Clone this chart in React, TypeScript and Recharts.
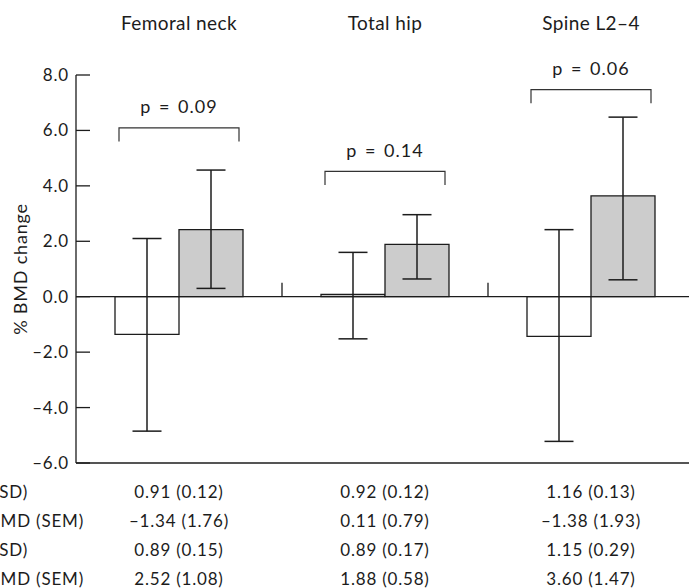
import { Bar, BarChart, ErrorBar, ReferenceLine, XAxis, YAxis } from "recharts";

const SITES = ["Femoral neck", "Total hip", "Spine L2–4"];

// % BMD change as drawn, with the ends of the 95% CI whiskers
const CONTROL_CHANGE = [-1.36, 0.08, -1.43];
const CONTROL_LOW = [-4.85, -1.52, -5.22];
const CONTROL_HIGH = [2.1, 1.6, 2.42];
const TREATED_CHANGE = [2.42, 1.89, 3.64];
const TREATED_LOW = [0.3, 0.64, 0.61];
const TREATED_HIGH = [4.57, 2.96, 6.48];

const P_LABELS = ["p = 0.09", "p = 0.14", "p = 0.06"];
const P_LEVEL = [6.09, 4.52, 7.47];

const Y_TICKS = [-6, -4, -2, 0, 2, 4, 6, 8];

const ROW_LABELS = [
  "Control: baseline BMD (SD)",
  "Control: % change in BMD (SEM)",
  "Treated: baseline BMD (SD)",
  "Treated: % change in BMD (SEM)",
];
const CONTROL_BASELINE = ["0.91 (0.12)", "0.92 (0.12)", "1.16 (0.13)"];
const CONTROL_PCT = ["–1.34 (1.76)", "0.11 (0.79)", "–1.38 (1.93)"];
const TREATED_BASELINE = ["0.89 (0.15)", "0.89 (0.17)", "1.15 (0.29)"];
const TREATED_PCT = ["2.52 (1.08)", "1.88 (0.58)", "3.60 (1.47)"];

const FONT = "Lato, 'Open Sans', sans-serif";
const INK = "#1c1c1c";

const data = SITES.map((site, i) => ({
  site,
  control: CONTROL_CHANGE[i],
  controlErr: [CONTROL_CHANGE[i] - CONTROL_LOW[i], CONTROL_HIGH[i] - CONTROL_CHANGE[i]],
  treated: TREATED_CHANGE[i],
  treatedErr: [TREATED_CHANGE[i] - TREATED_LOW[i], TREATED_HIGH[i] - TREATED_CHANGE[i]],
}));

function TitleTick({ x, y, payload }: any) {
  return (
    <text
      x={x}
      y={y - 45}
      textAnchor="middle"
      fontSize={19}
      letterSpacing={0.4}
      fontFamily={FONT}
      fill={INK}
    >
      {payload.value}
    </text>
  );
}

function TableTick({ x, y, payload }: any) {
  const i = SITES.indexOf(payload.value);
  const rows = [CONTROL_BASELINE[i], CONTROL_PCT[i], TREATED_BASELINE[i], TREATED_PCT[i]];
  return (
    <g fontFamily={FONT} fontSize={17} letterSpacing={0.8} fill={INK}>
      {rows.map((r, k) => (
        <text key={k} x={x} y={y + 35 + k * 29} textAnchor="middle">
          {r}
        </text>
      ))}
      {i === 0 &&
        ROW_LABELS.map((l, k) => (
          <text key={"l" + k} x={x - (k % 2 ? 95 : 151)} y={y + 35 + k * 29} textAnchor="end">
            {l}
          </text>
        ))}
    </g>
  );
}

function PBracket(props: any) {
  const vb = props.x !== undefined ? props : props.viewBox;
  const { x, y, height } = vb;
  const i = props.index ?? TREATED_CHANGE.indexOf(props.value);
  if (i < 0 || !height) return null;
  const unit = height / TREATED_CHANGE[i];
  const zeroY = y + height;
  const by = zeroY - P_LEVEL[i] * unit;
  const cx = x; // bars sit side by side, so the treated bar starts at the band centre
  return (
    <g>
      <path
        d={`M${cx - 60},${by + 13.5}V${by}H${cx + 60}V${by + 13.5}`}
        fill="none"
        stroke="#333"
        strokeWidth={1.2}
      />
      <text
        x={cx}
        y={by - 14.5}
        textAnchor="middle"
        fontSize={18}
        letterSpacing={1}
        wordSpacing={2}
        fontFamily={FONT}
        fill={INK}
      >
        {P_LABELS[i]}
      </text>
    </g>
  );
}

function YLabel({ viewBox }: any) {
  const cx = viewBox.x + 20;
  const cy = viewBox.y + viewBox.height / 2;
  return (
    <text
      x={cx}
      y={cy}
      transform={`rotate(-90, ${cx}, ${cy})`}
      textAnchor="middle"
      dominantBaseline="central"
      fontSize={18}
      letterSpacing={0.8}
      fontFamily={FONT}
      fill={INK}
    >
      % BMD change
    </text>
  );
}

export default function App() {
  return (
    <div
      style={{
        position: "absolute",
        left: 0,
        top: 0,
        width: 689,
        height: 588,
        overflow: "hidden",
        background: "#fff",
      }}
    >
      <BarChart
        width={700}
        height={588}
        data={data}
        margin={{ top: 0, right: 6, bottom: 0, left: 0 }}
        barGap={0}
        barSize={64}
      >
        <XAxis
          xAxisId="top"
          orientation="top"
          dataKey="site"
          height={75}
          axisLine={false}
          tickLine={false}
          tickSize={0}
          tickMargin={0}
          tick={<TitleTick />}
        />
        <XAxis
          dataKey="site"
          height={125}
          axisLine={{ stroke: INK, strokeWidth: 1.3 }}
          tickLine={false}
          tickSize={0}
          tickMargin={0}
          tick={<TableTick />}
        />
        <YAxis
          width={76}
          domain={[-6, 8]}
          ticks={Y_TICKS}
          interval={0}
          axisLine={{ stroke: INK, strokeWidth: 1.3 }}
          tickLine={{ stroke: INK, strokeWidth: 1.3 }}
          tickSize={-14}
          tickMargin={21}
          tickFormatter={(v: number) => v.toFixed(1).replace("-", "–")}
          tick={{ fontSize: 17, fontFamily: FONT, fill: INK, letterSpacing: 0.8 }}
          label={{ content: <YLabel /> }}
        />
        <ReferenceLine y={0} stroke={INK} strokeWidth={1.3} />
        {SITES.slice(1).map((s) => (
          <ReferenceLine
            key={s}
            segment={[
              { x: s, y: 0 },
              { x: s, y: 0.5 },
            ]}
            position="start"
            stroke={INK}
            strokeWidth={1.3}
          />
        ))}
        <Bar dataKey="control" fill="#ffffff" stroke={INK} strokeWidth={1.3} isAnimationActive={false}>
          <ErrorBar dataKey="controlErr" width={14.5} stroke={INK} strokeWidth={1.5} isAnimationActive={false} />
        </Bar>
        <Bar
          dataKey="treated"
          fill="#cccccc"
          stroke={INK}
          strokeWidth={1.3}
          isAnimationActive={false}
          label={(p: any) => <PBracket {...p} />}
        >
          <ErrorBar dataKey="treatedErr" width={14.5} stroke={INK} strokeWidth={1.5} isAnimationActive={false} />
        </Bar>
      </BarChart>
    </div>
  );
}
